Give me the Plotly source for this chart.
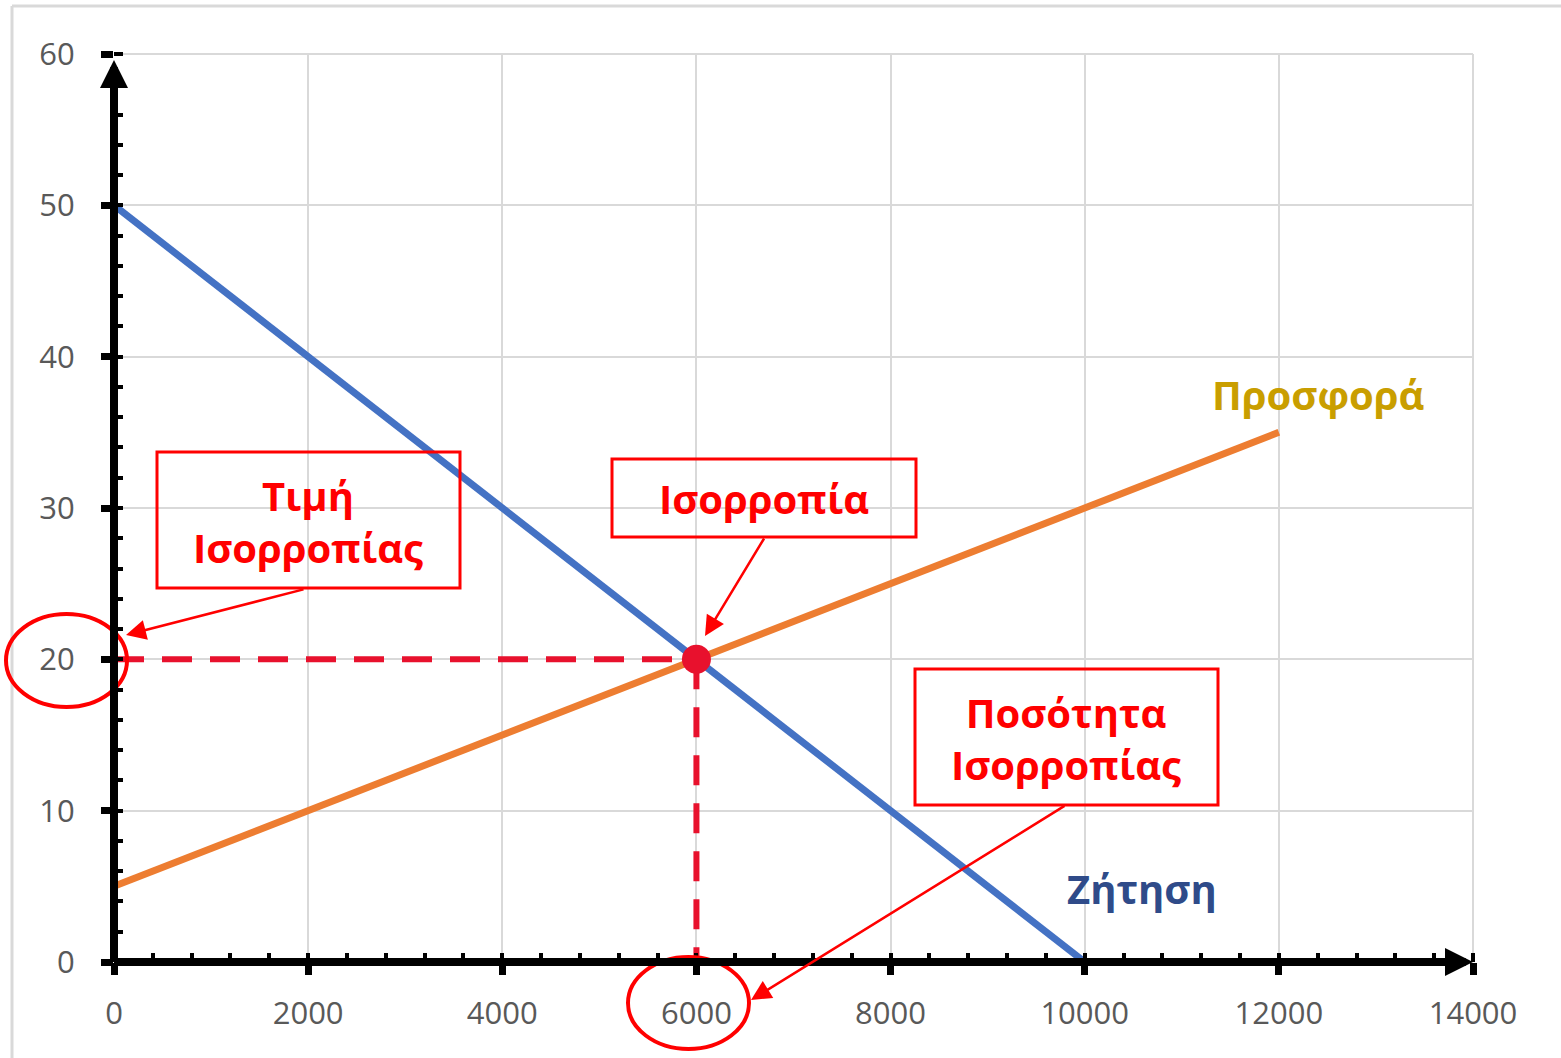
import plotly.graph_objects as go

# ---------------- data ----------------
demand_q = [0, 10000]
demand_p = [50, 0]
supply_q = [0, 12000]
supply_p = [5, 35]
eq_q = 6000
eq_p = 20
x_ticks = [0, 2000, 4000, 6000, 8000, 10000, 12000, 14000]
y_ticks = [0, 10, 20, 30, 40, 50, 60]

W, H = 1561, 1058
L, R, T, B = 114, 88, 54, 96
PW, PH = W - L - R, H - T - B


def px(x):
    return (x - L) / PW


def py(y):
    return (H - B - y) / PH


RED = "#FF0000"
DRED = "#E8112D"
FONT = "Open Sans"

fig = go.Figure()
fig.add_trace(go.Scatter(x=demand_q, y=demand_p, mode="lines",
                         line=dict(color="#4472C4", width=7), hoverinfo="skip"))
fig.add_trace(go.Scatter(x=supply_q, y=supply_p, mode="lines",
                         line=dict(color="#ED7D31", width=7), hoverinfo="skip"))
fig.add_trace(go.Scatter(x=[0, eq_q], y=[eq_p, eq_p], mode="lines",
                         line=dict(color=DRED, width=6, dash="30px,18px"), hoverinfo="skip"))
fig.add_trace(go.Scatter(x=[eq_q, eq_q], y=[eq_p, 0], mode="lines",
                         line=dict(color=DRED, width=6, dash="30px,18px"), hoverinfo="skip"))
fig.add_trace(go.Scatter(x=[eq_q], y=[eq_p], mode="markers",
                         marker=dict(color=DRED, size=29), hoverinfo="skip"))

shapes = []
# outer frame
shapes.append(dict(type="line", xref="paper", yref="paper", x0=px(12), x1=px(1561), y0=py(6), y1=py(6),
                   line=dict(color="#D9D9D9", width=3)))
shapes.append(dict(type="line", xref="paper", yref="paper", x0=px(12), x1=px(12), y0=py(6), y1=py(1058),
                   line=dict(color="#D9D9D9", width=3)))
# plot area top/right gridlines
shapes.append(dict(type="line", xref="paper", yref="paper", x0=0, x1=1, y0=1, y1=1,
                   line=dict(color="#D9D9D9", width=2), layer="below"))
shapes.append(dict(type="line", xref="paper", yref="paper", x0=1, x1=1, y0=0, y1=1,
                   line=dict(color="#D9D9D9", width=2), layer="below"))
# boxes
for (x0, y0, x1, y1) in [(157, 452, 460, 588), (612, 459, 916, 537), (915, 669, 1218, 805)]:
    shapes.append(dict(type="rect", xref="paper", yref="paper", x0=px(x0), x1=px(x1), y0=py(y0), y1=py(y1),
                       line=dict(color=RED, width=3), fillcolor="rgba(0,0,0,0)"))
# ellipses
for (x0, y0, x1, y1) in [(6, 614, 127, 707), (628, 957, 749, 1049)]:
    shapes.append(dict(type="circle", xref="paper", yref="paper", x0=px(x0), x1=px(x1), y0=py(y0), y1=py(y1),
                       line=dict(color=RED, width=4)))

ann = []
# axis arrows
ann.append(dict(x=14000, y=0, ax=0, ay=0, xref="x", yref="y", axref="x", ayref="y", text="",
                showarrow=True, arrowhead=2, arrowsize=0.7, arrowwidth=8, arrowcolor="black", standoff=0))
ann.append(dict(x=0, y=59.6, ax=0, ay=0, xref="x", yref="y", axref="x", ayref="y", text="",
                showarrow=True, arrowhead=2, arrowsize=0.7, arrowwidth=8, arrowcolor="black", standoff=0))


def label(x, y, text, color, size=40):
    ann.append(dict(x=px(x), y=py(y), xref="paper", yref="paper", text=text,
                    xanchor="center", yanchor="middle", align="center",
                    showarrow=False, font=dict(family=FONT, size=size, color=color)))


# box texts
label(308, 521, "<b>Τιμή<br>Ισορροπίας</b>", RED)
label(764, 498, "<b>Ισορροπία</b>", RED)
label(1066, 738, "<b>Ποσότητα<br>Ισορροπίας</b>", RED)
# series labels
label(1318, 394, "<b>Προσφορά</b>", "#C99E00")
label(1142, 888, "<b>Ζήτηση</b>", "#2F4B89")
# red pointer arrows
for (tx, ty, sx, sy) in [(126, 635, 305, 589), (705, 636, 765, 537), (751, 1000, 1066, 805)]:
    ann.append(dict(x=px(tx), y=py(ty), xref="paper", yref="paper", ax=sx - tx, ay=sy - ty,
                    text="", showarrow=True, arrowhead=2, arrowsize=1.6, arrowwidth=2.5,
                    arrowcolor=RED, standoff=0))

fig.update_layout(
    width=W, height=H,
    margin=dict(l=L, r=R, t=T, b=B, pad=0),
    paper_bgcolor="white", plot_bgcolor="white",
    showlegend=False,
    shapes=shapes, annotations=ann,
    xaxis=dict(range=[0, 14000], tickvals=x_ticks, ticktext=[str(v) for v in x_ticks],
               showgrid=True, gridcolor="#D9D9D9", gridwidth=2, zeroline=False, showline=False,
               ticks="outside", ticklen=12, tickwidth=7, tickcolor="black",
               minor=dict(ticks="inside", dtick=400, ticklen=9, tickwidth=4, tickcolor="black", showgrid=False),
               tickfont=dict(family=FONT, size=31, color="#595959"), ticklabelstandoff=12,
               fixedrange=True),
    yaxis=dict(range=[0, 60], tickvals=y_ticks, ticktext=[str(v) for v in y_ticks],
               showgrid=True, gridcolor="#D9D9D9", gridwidth=2, zeroline=False, showline=False,
               ticks="outside", ticklen=12, tickwidth=7, tickcolor="black",
               minor=dict(ticks="inside", dtick=2, ticklen=9, tickwidth=4, tickcolor="black", showgrid=False),
               tickfont=dict(family=FONT, size=31, color="#595959"), ticklabelstandoff=20,
               fixedrange=True),
)

fig.write_html("out.html", config={"displayModeBar": False},
               post_script="document.body.style.margin='0';document.body.style.overflow='hidden';")
